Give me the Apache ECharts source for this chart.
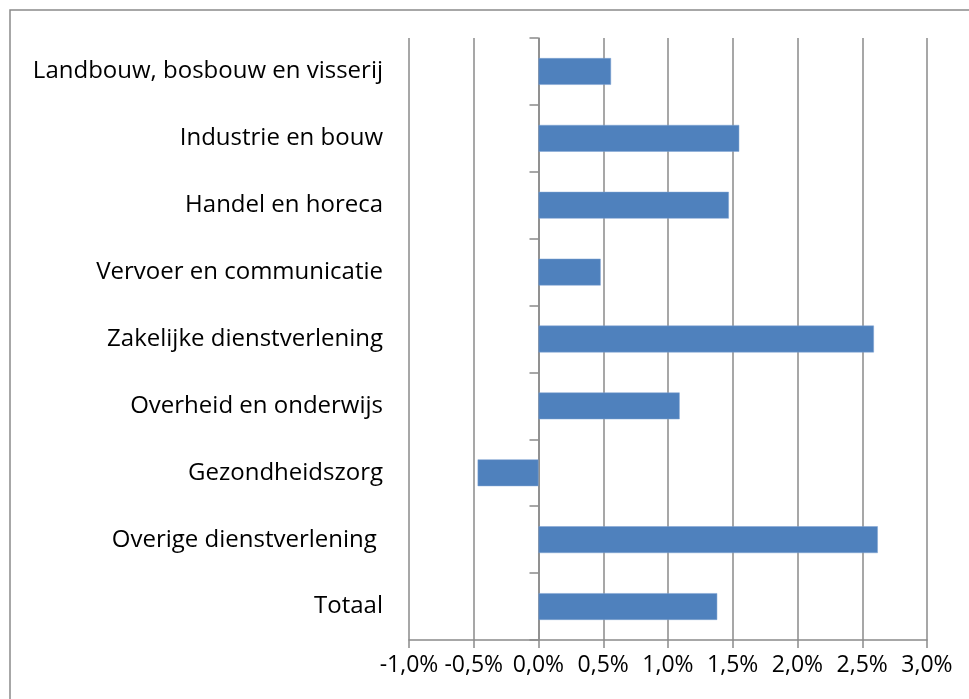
<!DOCTYPE html>
<html><head><meta charset="utf-8">
<script src="https://cdn.jsdelivr.net/npm/echarts@6/dist/echarts.min.js"></script>
<style>html,body{margin:0;padding:0;background:#fff}#c{width:969px;height:699px}</style>
</head><body><div id="c"></div>
<script>
const categories = ['Landbouw, bosbouw en visserij','Industrie en bouw','Handel en horeca','Vervoer en communicatie','Zakelijke dienstverlening','Overheid en onderwijs','Gezondheidszorg','Overige dienstverlening ','Totaal'];
const values = [0.56, 1.55, 1.47, 0.48, 2.59, 1.09, -0.47, 2.62, 1.38];
const xMin = -1.0, xMax = 3.0, xStep = 0.5;

const gray = '#8a8a8a';
const font = 'Open Sans';
const chart = echarts.init(document.getElementById('c'), null, {renderer:'canvas'});
chart.setOption({
  animation:false,
  backgroundColor:'#fff',
  graphic:[{type:'rect', shape:{x:10,y:10,width:1100,height:800}, style:{fill:'none', stroke:gray, lineWidth:1.5}, z:-1}],
  grid:{left:409, right:42, top:38, bottom:59, containLabel:false},
  xAxis:{type:'value', min:xMin, max:xMax, interval:xStep,
    axisLine:{show:true, onZero:false, lineStyle:{color:gray, width:1.5}},
    axisTick:{show:true, length:8, lineStyle:{color:gray, width:1.5}},
    splitLine:{show:true, lineStyle:{color:gray, width:1.5}},
    axisLabel:{color:'#000', fontFamily:font, fontSize:23, margin:14, hideOverlap:false,
      formatter:v=>v.toFixed(1).replace('.',',')+'%'}},
  yAxis:[{type:'category', data:categories, inverse:true,
    axisLine:{show:false, onZero:false}, axisTick:{show:false},
    axisLabel:{color:'#000', fontFamily:font, fontSize:24, margin:26}},
   {type:'category', data:categories, inverse:true, position:'left',
    axisLine:{show:true, onZero:true, lineStyle:{color:gray, width:1.5}},
    axisTick:{show:true, length:9, lineStyle:{color:gray, width:1.5}},
    axisLabel:{show:false}}],
  series:[{type:'bar', data:values, yAxisIndex:0, barWidth:'40%',
    itemStyle:{color:'#4F81BD', borderColor:'#7fa3d3', borderWidth:0.5}}]
});
</script></body></html>
